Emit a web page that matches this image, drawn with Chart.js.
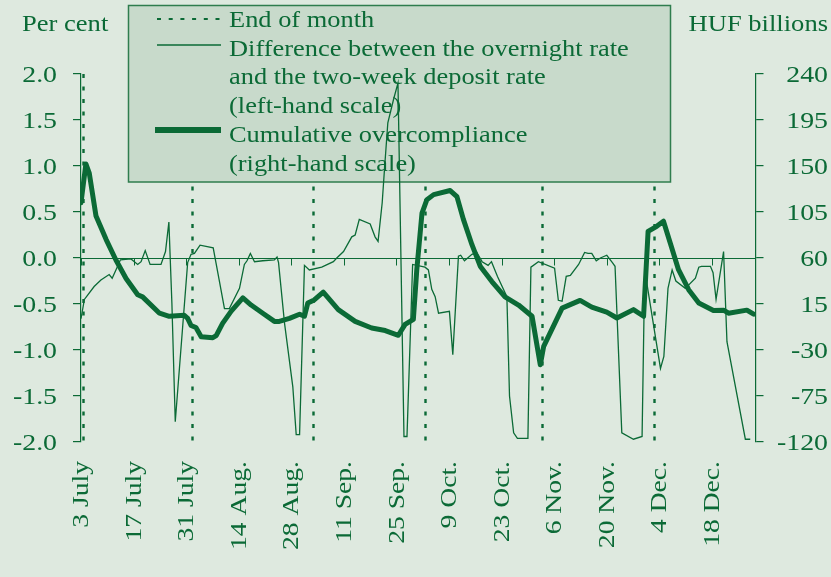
<!DOCTYPE html>
<html>
<head>
<meta charset="utf-8">
<script src="https://cdn.jsdelivr.net/npm/chart.js@4.4.1/dist/chart.umd.min.js"></script>
<style>
  html, body { margin: 0; padding: 0; background: #dee9df; }
  canvas { display: block; }
</style>
</head>
<body>
<canvas id="chart" width="831" height="577"></canvas>
<script>
// x values are days counted from 3 July
const tickLabels = ['3 July', '17 July', '31 July', '14 Aug.', '28 Aug.', '11 Sep.', '25 Sep.',
  '9 Oct.', '23 Oct.', '6 Nov.', '20 Nov.', '4 Dec.', '18 Dec.'];
const leftTickLabels = ['2.0', '1.5', '1.0', '0.5', '0.0', '-0.5', '-1.0', '-1.5', '-2.0'];
const rightTickLabels = ['240', '195', '150', '105', '60', '15', '-30', '-75', '-120'];
const monthEnds = [0.6, 29.6, 61.9, 91.6, 122.7, 152.7];

// Difference between overnight rate and two-week deposit rate (per cent)
const spreadDays = [
  0, 0.9, 3.5, 5.3, 7.5, 8.3, 9.3, 10.5, 13.3, 15.1,
  16.0, 17.1, 18.4, 21.3, 22.5, 23.4, 24.2, 25.1, 28.4, 29.3,
  30.2, 31.7, 35.2, 36.8, 38.2, 39.5, 42.2, 43.5, 44.2, 45.1,
  46.2, 48.4, 51.5, 52.2, 52.6, 54.2, 56.4, 57.3, 58.2, 59.5,
  60.8, 64.1, 67.2, 68.1, 69.9, 72.1, 73.0, 74.1, 77.0, 78.3,
  79.1, 80.2, 80.8, 81.7, 83.2, 84.4, 86.0, 86.8, 88.3, 91.6,
  92.5, 93.4, 94.3, 95.2, 98.1, 99.0, 100.5, 101.1, 102.1, 104.1,
  105.4, 106.8, 108.4, 109.3, 110.9, 113.4, 114.1, 115.2, 116.2, 119.0,
  119.8, 121.8, 126.1, 127.1, 128.1, 129.2, 130.3, 132.5, 134.1, 135.0,
  136.0, 137.2, 138.3, 140.0, 141.5, 142.2, 144.0, 147.1, 149.4, 150.1,
  154.3, 155.2, 156.3, 157.4, 158.4, 160.9, 163.6, 164.5, 165.2, 167.6,
  168.3, 169.1, 171.1, 172.0, 176.9, 178.2
];
const spreadValues = [
  -0.66, -0.45, -0.31, -0.24, -0.18, -0.22, -0.13, -0.02, -0.01, -0.07,
  -0.04, 0.08, -0.07, -0.07, 0.07, 0.39, -0.49, -1.78, -0.05, 0.04,
  0.05, 0.14, 0.11, -0.24, -0.55, -0.55, -0.33, -0.07, -0.03, 0.05,
  -0.04, -0.03, -0.02, 0.01, -0.05, -0.71, -1.40, -1.92, -1.92, -0.08,
  -0.13, -0.10, -0.04, 0.00, 0.07, 0.23, 0.25, 0.42, 0.37, 0.23,
  0.18, 0.60, 0.96, 1.47, 1.72, 1.90, -1.94, -1.94, -0.07, -0.10,
  -0.13, -0.34, -0.42, -0.60, -0.58, -1.05, 0.02, 0.03, -0.03, 0.04,
  0.06, -0.04, -0.08, -0.04, -0.20, -0.42, -1.50, -1.90, -1.96, -1.96,
  -0.10, -0.04, -0.11, -0.46, -0.47, -0.20, -0.19, -0.07, 0.06, 0.05,
  0.05, -0.03, 0.00, 0.03, -0.05, -0.09, -1.90, -1.97, -1.94, -0.13,
  -1.20, -1.07, -0.33, -0.13, -0.25, -0.33, -0.22, -0.10, -0.09, -0.09,
  -0.16, -0.45, 0.07, -0.91, -1.97, -1.97
];

// Cumulative overcompliance (HUF billions)
const cumDays = [
  0, 1.3, 2.2, 4.0, 6.7, 9.3, 12.0, 15.1, 16.4, 20.9,
  23.5, 27.5, 28.4, 29.3, 30.6, 32.0, 35.1, 36.0, 37.7, 40.0,
  43.1, 45.3, 48.4, 51.5, 52.8, 55.5, 58.2, 59.5, 60.4, 62.1,
  64.5, 68.5, 73.0, 77.4, 81.0, 84.5, 86.3, 88.5, 89.4, 90.8,
  92.1, 93.9, 98.3, 100.1, 101.8, 104.1, 106.3, 109.4, 112.9, 116.5,
  120.1, 122.3, 123.2, 128.1, 132.9, 136.0, 140.0, 142.7, 147.1, 149.8,
  151.0, 153.3, 155.1, 156.9, 159.1, 161.8, 164.5, 168.4, 171.1, 172.4,
  177.3, 179.1
];
const cumValues = [
  114, 152, 143, 101, 78, 58, 40, 24, 22, 6,
  3, 4, 1, -6, -8, -17, -18, -16, -4, 8,
  21, 14, 6, -2, -2, 1, 5, 3, 16, 19,
  26.6, 9.5, -2, -8.5, -11, -15.6, -5, 0, 48, 104,
  117, 122, 126, 120, 98, 73, 52, 37, 22, 14,
  3, -44.5, -26.5, 11, 18.5, 12, 7, 1.3, 9.5, 3,
  86, 91, 96, 74.7, 48.6, 29, 16, 8.7, 9, 6,
  9, 5
];

const legendLines = ['End of month', 'Difference between the overnight rate',
  'and the two-week deposit rate', '(left-hand scale)',
  'Cumulative overcompliance', '(right-hand scale)'];

const GREEN = '#0b6a36';
const BG = '#dee9df';
const SERIF = '"Liberation Serif", "Times New Roman", serif';

// text is a bit wider than plain Times in the original, so stretch it
function wideText(ctx, txt, x, y, align, sx, rot) {
  ctx.save();
  ctx.translate(x, y);
  if (rot) ctx.rotate(rot);
  ctx.scale(sx, 1);
  ctx.textAlign = align;
  ctx.fillText(txt, 0, 0);
  ctx.restore();
}

function hLine(ctx, x1, x2, y, w, dash) {
  ctx.save();
  ctx.strokeStyle = GREEN;
  ctx.lineWidth = w;
  ctx.setLineDash(dash || []);
  ctx.beginPath();
  ctx.moveTo(x1, y);
  ctx.lineTo(x2, y);
  ctx.stroke();
  ctx.restore();
}

const decor = {
  id: 'decor',
  beforeDraw(chart) {
    const ctx = chart.ctx;
    ctx.save();
    ctx.fillStyle = BG;
    ctx.fillRect(0, 0, chart.width, chart.height);
    ctx.restore();
  },
  beforeDatasetsDraw(chart) {
    const { ctx, chartArea, scales } = chart;
    const x = scales.x, y = scales.y;

    // month-end markers
    ctx.save();
    ctx.strokeStyle = GREEN;
    ctx.lineWidth = 2.4;
    ctx.setLineDash([4, 8.5]);
    monthEnds.forEach(d => {
      const px = Math.round(x.getPixelForValue(d)) + 0.5;
      ctx.beginPath();
      ctx.moveTo(px, chartArea.top);
      ctx.lineTo(px, chartArea.bottom);
      ctx.stroke();
    });
    ctx.restore();

    // zero line with tick marks
    const y0 = Math.round(y.getPixelForValue(0)) + 0.5;
    hLine(ctx, chartArea.left, chartArea.right, y0, 1.2);
    ctx.save();
    ctx.strokeStyle = GREEN;
    ctx.lineWidth = 1;
    tickLabels.forEach((t, i) => {
      const px = Math.round(x.getPixelForValue(i * 14)) + 0.5;
      ctx.beginPath();
      ctx.moveTo(px, y0);
      ctx.lineTo(px, y0 + 7);
      ctx.stroke();
    });
    ctx.restore();

    // legend box (the data lines are drawn over it)
    ctx.save();
    ctx.fillStyle = '#c8dacb';
    ctx.fillRect(128, 5, 543, 177);
    ctx.strokeStyle = '#2f7d4e';
    ctx.lineWidth = 1.5;
    ctx.strokeRect(128.5, 5.5, 542, 176.5);
    ctx.restore();

    hLine(ctx, 157, 222, 19, 2, [4, 7.7]);
    hLine(ctx, 157, 221, 45, 1.3);
    hLine(ctx, 155, 221, 130, 6);

    ctx.save();
    ctx.fillStyle = GREEN;
    ctx.font = '24px ' + SERIF;
    const baselines = [27, 55.5, 84, 112.5, 142, 170.5];
    legendLines.forEach((t, i) => wideText(ctx, t, 229, baselines[i], 'left', 1.1));
    ctx.restore();
  },
  afterDraw(chart) {
    const { ctx, scales } = chart;
    ctx.save();
    ctx.fillStyle = GREEN;
    ctx.textBaseline = 'alphabetic';

    ctx.font = '23.5px ' + SERIF;
    wideText(ctx, 'Per cent', 22, 31, 'left', 1.13);
    wideText(ctx, 'HUF billions', 828, 31, 'right', 1.13);

    ctx.font = '23px ' + SERIF;
    leftTickLabels.forEach(t => {
      wideText(ctx, t, 57, scales.y.getPixelForValue(parseFloat(t)) + 7.8, 'right', 1.21);
    });
    rightTickLabels.forEach(t => {
      wideText(ctx, t, 828, scales.y1.getPixelForValue(parseFloat(t)) + 7.8, 'right', 1.21);
    });

    ctx.textBaseline = 'middle';
    tickLabels.forEach((t, i) => {
      wideText(ctx, t, scales.x.getPixelForValue(i * 14) + 1, 461, 'right', 1.2, -Math.PI / 2);
    });
    ctx.restore();
  }
};

const axisGrid = { drawOnChartArea: false, drawTicks: true, tickLength: 8, color: GREEN, lineWidth: 1.2 };
const axisBorder = { display: true, color: GREEN, width: 1.2 };

new Chart(document.getElementById('chart'), {
  type: 'line',
  data: {
    datasets: [
      {
        label: legendLines[1],
        data: spreadDays.map((d, i) => ({ x: d, y: spreadValues[i] })),
        yAxisID: 'y',
        borderColor: GREEN,
        borderWidth: 1.3,
        pointRadius: 0,
        tension: 0
      },
      {
        label: legendLines[4],
        data: cumDays.map((d, i) => ({ x: d, y: cumValues[i] })),
        yAxisID: 'y1',
        borderColor: GREEN,
        borderWidth: 5,
        borderJoinStyle: 'round',
        borderCapStyle: 'round',
        pointRadius: 0,
        tension: 0
      }
    ]
  },
  options: {
    responsive: false,
    animation: false,
    devicePixelRatio: 1,
    layout: { padding: { top: 74, left: 0, right: 0, bottom: 0 } },
    plugins: { legend: { display: false }, tooltip: { enabled: false } },
    scales: {
      x: {
        type: 'linear', min: 0, max: 179.6,
        ticks: { display: false, stepSize: 14 },
        grid: { display: false },
        border: { display: false },
        afterFit(s) { s.height = 135; }
      },
      y: {
        position: 'left', min: -2, max: 2,
        ticks: { display: false, stepSize: 0.5 },
        grid: axisGrid,
        border: axisBorder,
        afterFit(s) { s.width = 81; }
      },
      y1: {
        position: 'right', min: -120, max: 240,
        ticks: { display: false, stepSize: 45 },
        grid: axisGrid,
        border: axisBorder,
        afterFit(s) { s.width = 75.5; }
      }
    }
  },
  plugins: [decor]
});
</script>
</body>
</html>
